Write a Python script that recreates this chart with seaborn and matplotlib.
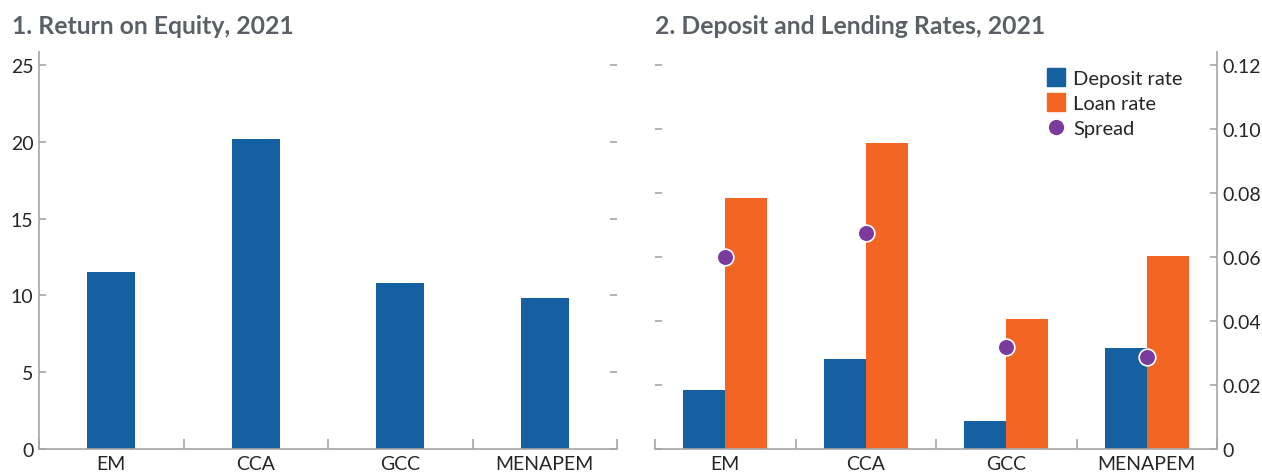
import numpy as np
import pandas as pd
import matplotlib
matplotlib.use("Agg")
import matplotlib.pyplot as plt
import seaborn as sns
from matplotlib.lines import Line2D
from matplotlib.ticker import FixedLocator, FuncFormatter

# Data
regions = ["EM", "CCA", "GCC", "MENAPEM"]
roe = [11.5, 20.2, 10.8, 9.8]
deposit_rate = [0.0184, 0.0281, 0.0088, 0.0316]
loan_rate = [0.0784, 0.0956, 0.0406, 0.0603]
spread = [0.0600, 0.0675, 0.0319, 0.0288]

BLUE = "#1460a0"
ORANGE = "#f26522"
PURPLE = "#7a3b9c"
GRAY = "#a6a6a6"
TITLE_C = "#5b6066"
TEXT_C = "#262626"

sns.set_theme(style="white")
plt.rcParams['font.family'] = ['Lato', 'DejaVu Sans']

fig = plt.figure(figsize=(12.62, 4.77), dpi=100)
ax1 = fig.add_axes([39 / 1262, 27 / 477, 578 / 1262, 397 / 477])
ax2 = fig.add_axes([655 / 1262, 27 / 477, 562 / 1262, 397 / 477])

# Panel 1: return on equity
df_roe = pd.DataFrame({"region": regions, "roe": roe})
sns.barplot(data=df_roe, x="region", y="roe", color=BLUE, width=0.33,
            saturation=1, linewidth=0, ax=ax1)
ax1.set_ylim(0, 25.85)
ax1.set_yticks([0, 5, 10, 15, 20, 25])

# Panel 2: deposit and lending rates
df_rates = pd.DataFrame({
    "region": regions * 2,
    "rate": deposit_rate + loan_rate,
    "kind": ["Deposit rate"] * 4 + ["Loan rate"] * 4,
})
sns.barplot(data=df_rates, x="region", y="rate", hue="kind",
            palette=[BLUE, ORANGE], width=0.6, saturation=1, linewidth=0,
            legend=False, ax=ax2)
df_spread = pd.DataFrame({"region": regions, "spread": spread})
sns.stripplot(data=df_spread, x="region", y="spread", jitter=False,
              color=PURPLE, size=12, edgecolor="white", linewidth=1.2,
              zorder=5, ax=ax2)
ax2.set_ylim(0, 0.124)
ax2.set_yticks([0, 0.02, 0.04, 0.06, 0.08, 0.10, 0.12])
ax2.yaxis.set_major_formatter(FuncFormatter(lambda v, p: "0" if v == 0 else f"{v:.2f}"))

handles = [
    Line2D([], [], marker="s", linestyle="none", markersize=13,
           markerfacecolor=BLUE, markeredgecolor=BLUE, label="Deposit rate"),
    Line2D([], [], marker="s", linestyle="none", markersize=13,
           markerfacecolor=ORANGE, markeredgecolor=ORANGE, label="Loan rate"),
    Line2D([], [], marker="o", linestyle="none", markersize=12,
           markerfacecolor=PURPLE, markeredgecolor="white", label="Spread"),
]
ax2.legend(handles=handles, loc="upper left", bbox_to_anchor=(0.685, 0.975),
           frameon=False, fontsize=14.5, handlelength=0.8, handletextpad=0.45,
           labelspacing=0.38, borderaxespad=0, labelcolor=TEXT_C)

for ax in (ax1, ax2):
    ax.set_xlabel("")
    ax.set_ylabel("")
    ax.set_xlim(-0.5, 3.5)
    ax.spines["top"].set_visible(False)
    for s in ("bottom", "left", "right"):
        ax.spines[s].set_color(GRAY)
        ax.spines[s].set_linewidth(1.2)
    ax.xaxis.set_minor_locator(FixedLocator([-0.5, 0.5, 1.5, 2.5, 3.5]))
    ax.tick_params(axis="x", which="major", length=0, pad=4,
                   labelsize=14, labelcolor=TEXT_C)
    ax.tick_params(axis="x", which="minor", direction="in", length=7,
                   width=1.2, color=GRAY, bottom=True)
    ax.tick_params(axis="y", direction="in", length=5, width=1.2,
                   color=GRAY, labelsize=14, labelcolor=TEXT_C, pad=4,
                   left=True, right=True)

ax1.spines["right"].set_visible(False)
ax1.tick_params(axis="y", labelleft=True, labelright=False)
ax2.spines["left"].set_visible(False)
ax2.tick_params(axis="y", labelleft=False, labelright=True)

fig.text(12 / 1262, 1 - 27 / 477, "1. Return on Equity, 2021", fontsize=17.8,
         fontweight="bold", color=TITLE_C, va="center", ha="left")
fig.text(655 / 1262, 1 - 27 / 477, "2. Deposit and Lending Rates, 2021",
         fontsize=17.8, fontweight="bold", color=TITLE_C, va="center", ha="left")

fig.savefig("out.png", dpi=100)
